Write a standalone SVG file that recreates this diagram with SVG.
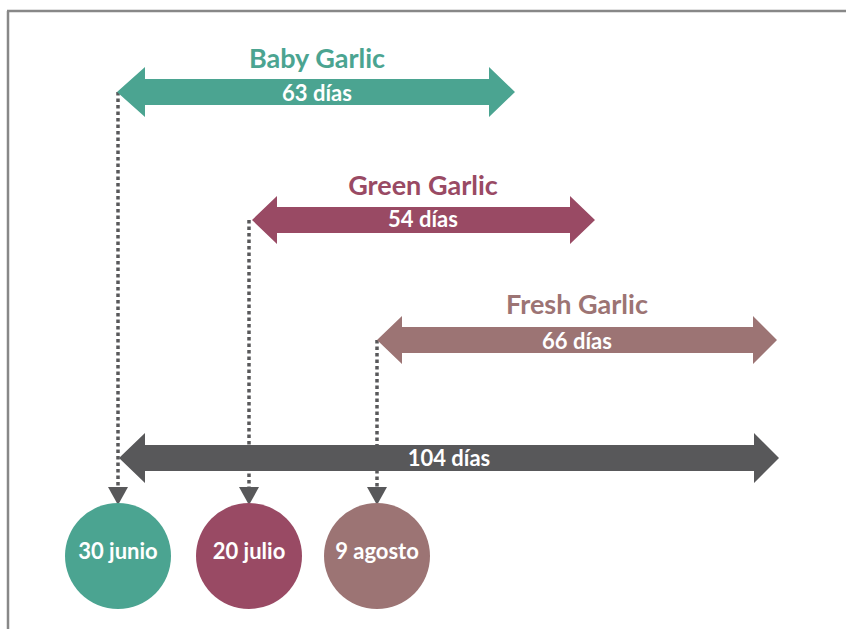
<svg xmlns="http://www.w3.org/2000/svg" width="846" height="629" viewBox="0 0 846 629">
<style>
.title{font-family:Lato,"Open Sans","Liberation Sans",sans-serif;font-weight:bold;font-size:27px;text-anchor:middle}
.lbl{font-family:Lato,"Open Sans","Liberation Sans",sans-serif;font-weight:bold;font-size:22px;fill:#fff;text-anchor:middle}
.dot{stroke:#58585a;stroke-width:3.5;stroke-dasharray:3.5 3;fill:none}
.tip{fill:#58585a}
</style>
<rect width="846" height="629" fill="#fff"/>
<path d="M7,11 H846 M8,11 V629" stroke="#888" stroke-width="2.5" fill="none"/>
<g id="connectors">
<path class="dot" d="M118,92 V487"/>
<path class="dot" d="M249,220 V487"/>
<path class="dot" d="M377,340 V487"/>
<path class="tip" d="M108,487 L128,487 L118,505 Z"/>
<path class="tip" d="M239,487 L259,487 L249,505 Z"/>
<path class="tip" d="M367,487 L387,487 L377,505 Z"/>
</g>
<g id="baby">
<path d="M117,92 L145,67 L145,79 L489,79 L489,67 L515,92 L489,117 L489,105 L145,105 L145,117 Z" fill="#4ba491"/>
<text class="title" x="317" y="68" fill="#4ba491">Baby Garlic</text>
<text class="lbl" x="317" y="101">63 días</text>
</g>
<g id="green">
<path d="M252,220 L277,196 L277,207 L570,207 L570,196 L595,220 L570,244 L570,233 L277,233 L277,244 Z" fill="#994a64"/>
<text class="title" x="423" y="195" fill="#994a64">Green Garlic</text>
<text class="lbl" x="423" y="227">54 días</text>
</g>
<g id="fresh">
<path d="M377,340 L402,316 L402,327 L753,327 L753,316 L777,340 L753,364 L753,353 L402,353 L402,364 Z" fill="#9c7474"/>
<text class="title" x="577" y="314" fill="#9c7474">Fresh Garlic</text>
<text class="lbl" x="577" y="349">66 días</text>
</g>
<g id="total">
<path d="M119,458 L145,433 L145,445 L754,445 L754,433 L779,458 L754,483 L754,471 L145,471 L145,483 Z" fill="#58585a"/>
<text class="lbl" x="449" y="466">104 días</text>
</g>
<g id="d1">
<circle cx="118" cy="556" r="53" fill="#4ba491"/>
<text class="lbl" x="118" y="559">30 junio</text>
</g>
<g id="d2">
<circle cx="249" cy="556" r="53" fill="#994a64"/>
<text class="lbl" x="249" y="559">20 julio</text>
</g>
<g id="d3">
<circle cx="377" cy="556" r="53" fill="#9c7474"/>
<text class="lbl" x="377" y="559">9 agosto</text>
</g>
</svg>
